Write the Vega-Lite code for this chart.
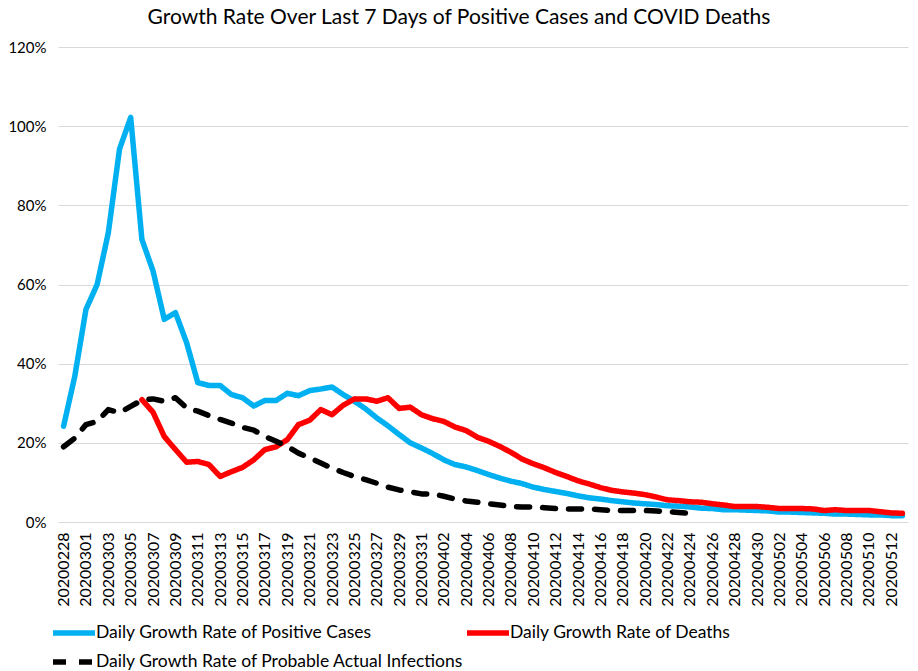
{
  "$schema": "https://vega.github.io/schema/vega-lite/v6.json",
  "width": 850,
  "height": 475,
  "autosize": {"type": "none"},
  "padding": {"left": 58, "top": 47, "right": 10, "bottom": 149},
  "title": {"text": "Growth Rate Over Last 7 Days of Positive Cases and COVID Deaths", "font": "Lato", "fontSize": 21, "fontWeight": "normal", "color": "#000000", "dx": -24, "offset": 12},
  "config": {
    "view": {"stroke": null},
    "font": "Lato",
    "axis": {"labelFont": "Lato", "labelColor": "#000000", "gridColor": "#d9d9d9", "gridWidth": 1, "domain": false, "ticks": false, "title": null},
    "legend": {"labelFont": "Lato", "labelColor": "#000000"}
  },
  "data": {"values": [
    {"d":"20200228","s":"Daily Growth Rate of Positive Cases","v":24.2},
    {"d":"20200229","s":"Daily Growth Rate of Positive Cases","v":36.8},
    {"d":"20200301","s":"Daily Growth Rate of Positive Cases","v":53.7},
    {"d":"20200302","s":"Daily Growth Rate of Positive Cases","v":60.0},
    {"d":"20200303","s":"Daily Growth Rate of Positive Cases","v":73.1},
    {"d":"20200304","s":"Daily Growth Rate of Positive Cases","v":94.2},
    {"d":"20200305","s":"Daily Growth Rate of Positive Cases","v":102.2},
    {"d":"20200306","s":"Daily Growth Rate of Positive Cases","v":71.4},
    {"d":"20200307","s":"Daily Growth Rate of Positive Cases","v":63.4},
    {"d":"20200308","s":"Daily Growth Rate of Positive Cases","v":51.2},
    {"d":"20200309","s":"Daily Growth Rate of Positive Cases","v":52.9},
    {"d":"20200310","s":"Daily Growth Rate of Positive Cases","v":45.3},
    {"d":"20200311","s":"Daily Growth Rate of Positive Cases","v":35.2},
    {"d":"20200312","s":"Daily Growth Rate of Positive Cases","v":34.5},
    {"d":"20200313","s":"Daily Growth Rate of Positive Cases","v":34.5},
    {"d":"20200314","s":"Daily Growth Rate of Positive Cases","v":32.2},
    {"d":"20200315","s":"Daily Growth Rate of Positive Cases","v":31.4},
    {"d":"20200316","s":"Daily Growth Rate of Positive Cases","v":29.3},
    {"d":"20200317","s":"Daily Growth Rate of Positive Cases","v":30.7},
    {"d":"20200318","s":"Daily Growth Rate of Positive Cases","v":30.7},
    {"d":"20200319","s":"Daily Growth Rate of Positive Cases","v":32.5},
    {"d":"20200320","s":"Daily Growth Rate of Positive Cases","v":31.9},
    {"d":"20200321","s":"Daily Growth Rate of Positive Cases","v":33.2},
    {"d":"20200322","s":"Daily Growth Rate of Positive Cases","v":33.6},
    {"d":"20200323","s":"Daily Growth Rate of Positive Cases","v":34.1},
    {"d":"20200324","s":"Daily Growth Rate of Positive Cases","v":32.2},
    {"d":"20200325","s":"Daily Growth Rate of Positive Cases","v":30.5},
    {"d":"20200326","s":"Daily Growth Rate of Positive Cases","v":28.6},
    {"d":"20200327","s":"Daily Growth Rate of Positive Cases","v":26.3},
    {"d":"20200328","s":"Daily Growth Rate of Positive Cases","v":24.3},
    {"d":"20200329","s":"Daily Growth Rate of Positive Cases","v":22.1},
    {"d":"20200330","s":"Daily Growth Rate of Positive Cases","v":20.0},
    {"d":"20200331","s":"Daily Growth Rate of Positive Cases","v":18.7},
    {"d":"20200401","s":"Daily Growth Rate of Positive Cases","v":17.3},
    {"d":"20200402","s":"Daily Growth Rate of Positive Cases","v":15.7},
    {"d":"20200403","s":"Daily Growth Rate of Positive Cases","v":14.5},
    {"d":"20200404","s":"Daily Growth Rate of Positive Cases","v":13.9},
    {"d":"20200405","s":"Daily Growth Rate of Positive Cases","v":13.0},
    {"d":"20200406","s":"Daily Growth Rate of Positive Cases","v":12.0},
    {"d":"20200407","s":"Daily Growth Rate of Positive Cases","v":11.1},
    {"d":"20200408","s":"Daily Growth Rate of Positive Cases","v":10.3},
    {"d":"20200409","s":"Daily Growth Rate of Positive Cases","v":9.7},
    {"d":"20200410","s":"Daily Growth Rate of Positive Cases","v":8.8},
    {"d":"20200411","s":"Daily Growth Rate of Positive Cases","v":8.2},
    {"d":"20200412","s":"Daily Growth Rate of Positive Cases","v":7.7},
    {"d":"20200413","s":"Daily Growth Rate of Positive Cases","v":7.2},
    {"d":"20200414","s":"Daily Growth Rate of Positive Cases","v":6.6},
    {"d":"20200415","s":"Daily Growth Rate of Positive Cases","v":6.1},
    {"d":"20200416","s":"Daily Growth Rate of Positive Cases","v":5.8},
    {"d":"20200417","s":"Daily Growth Rate of Positive Cases","v":5.4},
    {"d":"20200418","s":"Daily Growth Rate of Positive Cases","v":5.1},
    {"d":"20200419","s":"Daily Growth Rate of Positive Cases","v":4.8},
    {"d":"20200420","s":"Daily Growth Rate of Positive Cases","v":4.6},
    {"d":"20200421","s":"Daily Growth Rate of Positive Cases","v":4.4},
    {"d":"20200422","s":"Daily Growth Rate of Positive Cases","v":4.1},
    {"d":"20200423","s":"Daily Growth Rate of Positive Cases","v":4.0},
    {"d":"20200424","s":"Daily Growth Rate of Positive Cases","v":3.8},
    {"d":"20200425","s":"Daily Growth Rate of Positive Cases","v":3.5},
    {"d":"20200426","s":"Daily Growth Rate of Positive Cases","v":3.4},
    {"d":"20200427","s":"Daily Growth Rate of Positive Cases","v":3.1},
    {"d":"20200428","s":"Daily Growth Rate of Positive Cases","v":3.1},
    {"d":"20200429","s":"Daily Growth Rate of Positive Cases","v":3.0},
    {"d":"20200430","s":"Daily Growth Rate of Positive Cases","v":2.9},
    {"d":"20200501","s":"Daily Growth Rate of Positive Cases","v":2.8},
    {"d":"20200502","s":"Daily Growth Rate of Positive Cases","v":2.5},
    {"d":"20200503","s":"Daily Growth Rate of Positive Cases","v":2.5},
    {"d":"20200504","s":"Daily Growth Rate of Positive Cases","v":2.4},
    {"d":"20200505","s":"Daily Growth Rate of Positive Cases","v":2.3},
    {"d":"20200506","s":"Daily Growth Rate of Positive Cases","v":2.2},
    {"d":"20200507","s":"Daily Growth Rate of Positive Cases","v":2.0},
    {"d":"20200508","s":"Daily Growth Rate of Positive Cases","v":2.0},
    {"d":"20200509","s":"Daily Growth Rate of Positive Cases","v":1.9},
    {"d":"20200510","s":"Daily Growth Rate of Positive Cases","v":1.8},
    {"d":"20200511","s":"Daily Growth Rate of Positive Cases","v":1.8},
    {"d":"20200512","s":"Daily Growth Rate of Positive Cases","v":1.6},
    {"d":"20200513","s":"Daily Growth Rate of Positive Cases","v":1.6},
    {"d":"20200306","s":"Daily Growth Rate of Deaths","v":30.9},
    {"d":"20200307","s":"Daily Growth Rate of Deaths","v":27.7},
    {"d":"20200308","s":"Daily Growth Rate of Deaths","v":21.6},
    {"d":"20200309","s":"Daily Growth Rate of Deaths","v":18.3},
    {"d":"20200310","s":"Daily Growth Rate of Deaths","v":15.1},
    {"d":"20200311","s":"Daily Growth Rate of Deaths","v":15.3},
    {"d":"20200312","s":"Daily Growth Rate of Deaths","v":14.5},
    {"d":"20200313","s":"Daily Growth Rate of Deaths","v":11.5},
    {"d":"20200314","s":"Daily Growth Rate of Deaths","v":12.7},
    {"d":"20200315","s":"Daily Growth Rate of Deaths","v":13.8},
    {"d":"20200316","s":"Daily Growth Rate of Deaths","v":15.7},
    {"d":"20200317","s":"Daily Growth Rate of Deaths","v":18.3},
    {"d":"20200318","s":"Daily Growth Rate of Deaths","v":19.0},
    {"d":"20200319","s":"Daily Growth Rate of Deaths","v":20.8},
    {"d":"20200320","s":"Daily Growth Rate of Deaths","v":24.6},
    {"d":"20200321","s":"Daily Growth Rate of Deaths","v":25.7},
    {"d":"20200322","s":"Daily Growth Rate of Deaths","v":28.4},
    {"d":"20200323","s":"Daily Growth Rate of Deaths","v":27.1},
    {"d":"20200324","s":"Daily Growth Rate of Deaths","v":29.5},
    {"d":"20200325","s":"Daily Growth Rate of Deaths","v":31.1},
    {"d":"20200326","s":"Daily Growth Rate of Deaths","v":31.1},
    {"d":"20200327","s":"Daily Growth Rate of Deaths","v":30.5},
    {"d":"20200328","s":"Daily Growth Rate of Deaths","v":31.4},
    {"d":"20200329","s":"Daily Growth Rate of Deaths","v":28.7},
    {"d":"20200330","s":"Daily Growth Rate of Deaths","v":29.0},
    {"d":"20200331","s":"Daily Growth Rate of Deaths","v":27.1},
    {"d":"20200401","s":"Daily Growth Rate of Deaths","v":26.1},
    {"d":"20200402","s":"Daily Growth Rate of Deaths","v":25.4},
    {"d":"20200403","s":"Daily Growth Rate of Deaths","v":24.0},
    {"d":"20200404","s":"Daily Growth Rate of Deaths","v":23.1},
    {"d":"20200405","s":"Daily Growth Rate of Deaths","v":21.4},
    {"d":"20200406","s":"Daily Growth Rate of Deaths","v":20.4},
    {"d":"20200407","s":"Daily Growth Rate of Deaths","v":19.1},
    {"d":"20200408","s":"Daily Growth Rate of Deaths","v":17.6},
    {"d":"20200409","s":"Daily Growth Rate of Deaths","v":15.9},
    {"d":"20200410","s":"Daily Growth Rate of Deaths","v":14.7},
    {"d":"20200411","s":"Daily Growth Rate of Deaths","v":13.7},
    {"d":"20200412","s":"Daily Growth Rate of Deaths","v":12.5},
    {"d":"20200413","s":"Daily Growth Rate of Deaths","v":11.5},
    {"d":"20200414","s":"Daily Growth Rate of Deaths","v":10.4},
    {"d":"20200415","s":"Daily Growth Rate of Deaths","v":9.6},
    {"d":"20200416","s":"Daily Growth Rate of Deaths","v":8.7},
    {"d":"20200417","s":"Daily Growth Rate of Deaths","v":8.0},
    {"d":"20200418","s":"Daily Growth Rate of Deaths","v":7.6},
    {"d":"20200419","s":"Daily Growth Rate of Deaths","v":7.3},
    {"d":"20200420","s":"Daily Growth Rate of Deaths","v":6.9},
    {"d":"20200421","s":"Daily Growth Rate of Deaths","v":6.3},
    {"d":"20200422","s":"Daily Growth Rate of Deaths","v":5.6},
    {"d":"20200423","s":"Daily Growth Rate of Deaths","v":5.4},
    {"d":"20200424","s":"Daily Growth Rate of Deaths","v":5.1},
    {"d":"20200425","s":"Daily Growth Rate of Deaths","v":5.0},
    {"d":"20200426","s":"Daily Growth Rate of Deaths","v":4.6},
    {"d":"20200427","s":"Daily Growth Rate of Deaths","v":4.3},
    {"d":"20200428","s":"Daily Growth Rate of Deaths","v":3.9},
    {"d":"20200429","s":"Daily Growth Rate of Deaths","v":3.9},
    {"d":"20200430","s":"Daily Growth Rate of Deaths","v":3.9},
    {"d":"20200501","s":"Daily Growth Rate of Deaths","v":3.7},
    {"d":"20200502","s":"Daily Growth Rate of Deaths","v":3.4},
    {"d":"20200503","s":"Daily Growth Rate of Deaths","v":3.4},
    {"d":"20200504","s":"Daily Growth Rate of Deaths","v":3.4},
    {"d":"20200505","s":"Daily Growth Rate of Deaths","v":3.3},
    {"d":"20200506","s":"Daily Growth Rate of Deaths","v":2.9},
    {"d":"20200507","s":"Daily Growth Rate of Deaths","v":3.1},
    {"d":"20200508","s":"Daily Growth Rate of Deaths","v":2.9},
    {"d":"20200509","s":"Daily Growth Rate of Deaths","v":2.9},
    {"d":"20200510","s":"Daily Growth Rate of Deaths","v":2.9},
    {"d":"20200511","s":"Daily Growth Rate of Deaths","v":2.6},
    {"d":"20200512","s":"Daily Growth Rate of Deaths","v":2.3},
    {"d":"20200513","s":"Daily Growth Rate of Deaths","v":2.2},
    {"d":"20200228","s":"Daily Growth Rate of Probable Actual Infections","v":19.0},
    {"d":"20200229","s":"Daily Growth Rate of Probable Actual Infections","v":21.2},
    {"d":"20200301","s":"Daily Growth Rate of Probable Actual Infections","v":24.6},
    {"d":"20200302","s":"Daily Growth Rate of Probable Actual Infections","v":25.4},
    {"d":"20200303","s":"Daily Growth Rate of Probable Actual Infections","v":28.4},
    {"d":"20200304","s":"Daily Growth Rate of Probable Actual Infections","v":27.6},
    {"d":"20200305","s":"Daily Growth Rate of Probable Actual Infections","v":29.2},
    {"d":"20200306","s":"Daily Growth Rate of Probable Actual Infections","v":30.8},
    {"d":"20200307","s":"Daily Growth Rate of Probable Actual Infections","v":31.1},
    {"d":"20200308","s":"Daily Growth Rate of Probable Actual Infections","v":30.5},
    {"d":"20200309","s":"Daily Growth Rate of Probable Actual Infections","v":31.4},
    {"d":"20200310","s":"Daily Growth Rate of Probable Actual Infections","v":28.8},
    {"d":"20200311","s":"Daily Growth Rate of Probable Actual Infections","v":28.0},
    {"d":"20200312","s":"Daily Growth Rate of Probable Actual Infections","v":26.9},
    {"d":"20200313","s":"Daily Growth Rate of Probable Actual Infections","v":25.9},
    {"d":"20200314","s":"Daily Growth Rate of Probable Actual Infections","v":25.0},
    {"d":"20200315","s":"Daily Growth Rate of Probable Actual Infections","v":23.9},
    {"d":"20200316","s":"Daily Growth Rate of Probable Actual Infections","v":23.2},
    {"d":"20200317","s":"Daily Growth Rate of Probable Actual Infections","v":21.6},
    {"d":"20200318","s":"Daily Growth Rate of Probable Actual Infections","v":20.4},
    {"d":"20200319","s":"Daily Growth Rate of Probable Actual Infections","v":19.1},
    {"d":"20200320","s":"Daily Growth Rate of Probable Actual Infections","v":17.4},
    {"d":"20200321","s":"Daily Growth Rate of Probable Actual Infections","v":16.2},
    {"d":"20200322","s":"Daily Growth Rate of Probable Actual Infections","v":14.9},
    {"d":"20200323","s":"Daily Growth Rate of Probable Actual Infections","v":13.6},
    {"d":"20200324","s":"Daily Growth Rate of Probable Actual Infections","v":12.5},
    {"d":"20200325","s":"Daily Growth Rate of Probable Actual Infections","v":11.5},
    {"d":"20200326","s":"Daily Growth Rate of Probable Actual Infections","v":10.7},
    {"d":"20200327","s":"Daily Growth Rate of Probable Actual Infections","v":9.8},
    {"d":"20200328","s":"Daily Growth Rate of Probable Actual Infections","v":8.8},
    {"d":"20200329","s":"Daily Growth Rate of Probable Actual Infections","v":8.1},
    {"d":"20200330","s":"Daily Growth Rate of Probable Actual Infections","v":7.6},
    {"d":"20200331","s":"Daily Growth Rate of Probable Actual Infections","v":7.1},
    {"d":"20200401","s":"Daily Growth Rate of Probable Actual Infections","v":7.1},
    {"d":"20200402","s":"Daily Growth Rate of Probable Actual Infections","v":6.5},
    {"d":"20200403","s":"Daily Growth Rate of Probable Actual Infections","v":5.8},
    {"d":"20200404","s":"Daily Growth Rate of Probable Actual Infections","v":5.3},
    {"d":"20200405","s":"Daily Growth Rate of Probable Actual Infections","v":5.0},
    {"d":"20200406","s":"Daily Growth Rate of Probable Actual Infections","v":4.6},
    {"d":"20200407","s":"Daily Growth Rate of Probable Actual Infections","v":4.3},
    {"d":"20200408","s":"Daily Growth Rate of Probable Actual Infections","v":3.9},
    {"d":"20200409","s":"Daily Growth Rate of Probable Actual Infections","v":3.8},
    {"d":"20200410","s":"Daily Growth Rate of Probable Actual Infections","v":3.8},
    {"d":"20200411","s":"Daily Growth Rate of Probable Actual Infections","v":3.6},
    {"d":"20200412","s":"Daily Growth Rate of Probable Actual Infections","v":3.4},
    {"d":"20200413","s":"Daily Growth Rate of Probable Actual Infections","v":3.3},
    {"d":"20200414","s":"Daily Growth Rate of Probable Actual Infections","v":3.3},
    {"d":"20200415","s":"Daily Growth Rate of Probable Actual Infections","v":3.3},
    {"d":"20200416","s":"Daily Growth Rate of Probable Actual Infections","v":3.1},
    {"d":"20200417","s":"Daily Growth Rate of Probable Actual Infections","v":2.9},
    {"d":"20200418","s":"Daily Growth Rate of Probable Actual Infections","v":2.9},
    {"d":"20200419","s":"Daily Growth Rate of Probable Actual Infections","v":2.9},
    {"d":"20200420","s":"Daily Growth Rate of Probable Actual Infections","v":2.9},
    {"d":"20200421","s":"Daily Growth Rate of Probable Actual Infections","v":2.8},
    {"d":"20200422","s":"Daily Growth Rate of Probable Actual Infections","v":2.6},
    {"d":"20200423","s":"Daily Growth Rate of Probable Actual Infections","v":2.4},
    {"d":"20200424","s":"Daily Growth Rate of Probable Actual Infections","v":2.2}
  ]},
  "mark": {"type": "line", "strokeWidth": 5.5, "strokeCap": "round", "strokeJoin": "round"},
  "encoding": {
    "x": {
      "field": "d", "type": "ordinal", "sort": null,
      "axis": {
        "values": ["20200228","20200301","20200303","20200305","20200307","20200309","20200311","20200313","20200315","20200317","20200319","20200321","20200323","20200325","20200327","20200329","20200331","20200402","20200404","20200406","20200408","20200410","20200412","20200414","20200416","20200418","20200420","20200422","20200424","20200426","20200428","20200430","20200502","20200504","20200506","20200508","20200510","20200512"],
        "labelAngle": 270, "labelFontSize": 16, "labelPadding": 10, "grid": false, "labelOverlap": false
      }
    },
    "y": {
      "field": "v", "type": "quantitative",
      "scale": {"domain": [0, 120], "nice": false},
      "axis": {"values": [0, 20, 40, 60, 80, 100, 120], "labelExpr": "datum.value + '%'", "labelFontSize": 15, "labelPadding": 12, "grid": true}
    },
    "color": {
      "field": "s", "type": "nominal", "sort": null,
      "scale": {"domain": ["Daily Growth Rate of Positive Cases", "Daily Growth Rate of Deaths", "Daily Growth Rate of Probable Actual Infections"], "range": ["#00B0F0", "#FF0000", "#000000"]},
      "legend": {"title": null, "orient": "none", "legendX": -8, "legendY": 569, "direction": "horizontal", "columns": 2, "gridAlign": "all", "columnPadding": -14, "rowPadding": 1, "symbolType": "M-1,0L2,0", "symbolSize": 784, "symbolStrokeWidth": 5.5, "labelFontSize": 17.5, "labelOffset": 12, "labelLimit": 0}
    },
    "strokeDash": {
      "field": "s", "type": "nominal", "sort": null,
      "scale": {"domain": ["Daily Growth Rate of Positive Cases", "Daily Growth Rate of Deaths", "Daily Growth Rate of Probable Actual Infections"], "range": [[1, 0], [1, 0], [13, 13]]},
      "legend": {"title": null, "orient": "none", "legendX": -8, "legendY": 569, "direction": "horizontal", "columns": 2, "gridAlign": "all", "columnPadding": -14, "rowPadding": 1, "symbolType": "M-1,0L2,0", "symbolSize": 784, "symbolStrokeWidth": 5.5, "labelFontSize": 17.5, "labelOffset": 12, "labelLimit": 0}
    }
  }
}
